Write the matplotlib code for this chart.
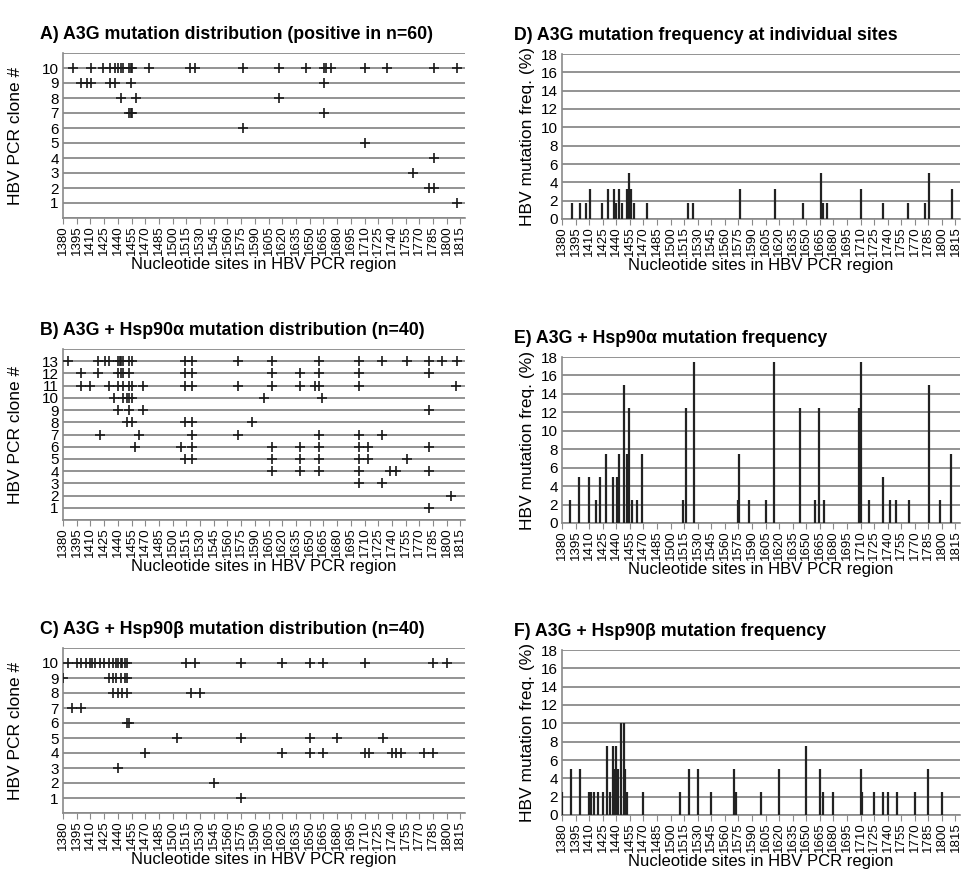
import matplotlib
matplotlib.use("Agg")
import matplotlib.pyplot as plt
import numpy as np

plt.rcParams['font.family'] = ['Liberation Sans', 'DejaVu Sans']

# ---------------- data ----------------
tick_sites = list(range(1380, 1816, 15))

# Panel A: A3G clone mutation positions (row -> sites)
A_rows = {
    10: [1391, 1411, 1424, 1431, 1437, 1440, 1443, 1446, 1452, 1454, 1456, 1474, 1519, 1525,
         1577, 1616, 1646, 1666, 1668, 1673, 1711, 1735, 1786, 1811],
    9: [1400, 1406, 1411, 1431, 1437, 1454, 1666],
    8: [1443, 1460, 1616],
    7: [1452, 1454, 1456, 1666],
    6: [1577],
    5: [1711],
    4: [1786],
    3: [1763],
    2: [1781, 1786],
    1: [1811],
}

B_rows = {
    13: [1385, 1418, 1426, 1430, 1440, 1442, 1444, 1446, 1452, 1455, 1514, 1521, 1571, 1609, 1660, 1704, 1729, 1757, 1781, 1795, 1811],
    12: [1400, 1418, 1440, 1443, 1446, 1452, 1514, 1521, 1609, 1639, 1660, 1704, 1781],
    11: [1400, 1410, 1430, 1440, 1446, 1452, 1455, 1468, 1514, 1521, 1571, 1609, 1639, 1656, 1660, 1704, 1810],
    10: [1436, 1446, 1450, 1452, 1455, 1600, 1664],
    9: [1440, 1452, 1468, 1781],
    8: [1450, 1455, 1514, 1521, 1587],
    7: [1420, 1463, 1521, 1571, 1660, 1704, 1729],
    6: [1459, 1509, 1521, 1609, 1639, 1660, 1704, 1714, 1781],
    5: [1514, 1521, 1609, 1639, 1660, 1704, 1714, 1757],
    4: [1609, 1639, 1660, 1704, 1738, 1744, 1781],
    3: [1704, 1729],
    2: [1805],
    1: [1781],
}

C_rows = {
    10: [1385, 1395, 1400, 1405, 1410, 1412, 1415, 1420, 1425, 1430, 1435, 1438, 1440, 1443, 1445,
         1448, 1450, 1515, 1525, 1575, 1620, 1650, 1665, 1710, 1785, 1800],
    9: [1380, 1430, 1435, 1438, 1443, 1448, 1450],
    8: [1435, 1440, 1445, 1450, 1520, 1530],
    7: [1390, 1400],
    6: [1450, 1452],
    5: [1505, 1575, 1650, 1680, 1730],
    4: [1470, 1620, 1650, 1665, 1710, 1715, 1740, 1745, 1750, 1775, 1785],
    3: [1440],
    2: [1545],
    1: [1575],
}

# Panel D: A3G mutation frequency (%)
D_sites = [1391, 1400, 1406, 1411, 1424, 1431, 1437, 1440, 1443, 1446, 1452, 1454, 1456, 1460, 1474,
           1519, 1525, 1577, 1616, 1646, 1666, 1668, 1673, 1711, 1735, 1763, 1781, 1786, 1811]
D_freq = [1.7, 1.7, 1.7, 3.3, 1.7, 3.3, 3.3, 1.7, 3.3, 1.7, 3.3, 5.0, 3.3, 1.7, 1.7,
          1.7, 1.7, 3.3, 3.3, 1.7, 5.0, 1.7, 1.7, 3.3, 1.7, 1.7, 1.7, 5.0, 3.3]

# Panel E: A3G + Hsp90a frequency (%)
E_sites = [1389, 1399, 1410, 1418, 1422, 1429, 1436, 1441, 1443, 1449, 1452, 1454, 1457, 1463, 1468,
           1514, 1517, 1526, 1575, 1576, 1587, 1605, 1614, 1643, 1660, 1664, 1670, 1708, 1710,
           1719, 1735, 1743, 1749, 1764, 1786, 1798, 1810]
E_freq = [2.5, 5.0, 5.0, 2.5, 5.0, 7.5, 5.0, 5.0, 7.5, 15.0, 7.5, 12.5, 2.5, 2.5, 7.5,
          2.5, 12.5, 17.5, 2.5, 7.5, 2.5, 2.5, 17.5, 12.5, 2.5, 12.5, 2.5, 12.5, 17.5,
          2.5, 5.0, 2.5, 2.5, 2.5, 15.0, 2.5, 7.5]

# Panel F: A3G + Hsp90b frequency (%)
F_sites = [1380, 1390, 1400, 1410, 1412, 1415, 1420, 1425, 1430, 1433, 1436, 1438, 1440, 1442, 1445,
           1448, 1450, 1452, 1470, 1510, 1520, 1530, 1545, 1570, 1572, 1600, 1620, 1650, 1665, 1668,
           1680, 1710, 1712, 1725, 1735, 1740, 1750, 1770, 1785, 1800]
F_freq = [2.5, 5.0, 5.0, 2.5, 2.5, 2.5, 2.5, 2.5, 7.5, 2.5, 7.5, 5.0, 7.5, 5.0, 10.0,
          10.0, 5.0, 2.5, 2.5, 2.5, 5.0, 5.0, 2.5, 5.0, 2.5, 2.5, 5.0, 7.5, 5.0, 2.5,
          2.5, 5.0, 2.5, 2.5, 2.5, 2.5, 2.5, 2.5, 5.0, 2.5]

titles = ["A) A3G mutation distribution (positive in n=60)",
          "B) A3G + Hsp90\u03b1 mutation distribution (n=40)",
          "C) A3G + Hsp90\u03b2 mutation distribution (n=40)",
          "D) A3G mutation frequency at individual sites",
          "E) A3G + Hsp90\u03b1 mutation frequency",
          "F) A3G + Hsp90\u03b2 mutation frequency"]
xlabel = "Nucleotide sites in HBV PCR region"
ylabel_left = "HBV PCR clone #"
ylabel_right = "HBV mutation freq. (%)"

# ---------------- layout ----------------
W, H = 964, 874
fig = plt.figure(figsize=(W / 100, H / 100), dpi=100)

def add_ax(l, r, t, b):
    return fig.add_axes([l / W, 1 - b / H, (r - l) / W, (b - t) / H])

GRID = '#8a8a8a'
XMIN, XMAX = 1380, 1820

def style_x(ax):
    ax.set_xlim(XMIN, XMAX)
    ax.set_xticks(tick_sites)
    ax.set_xticklabels([str(t) for t in tick_sites], rotation=90, fontsize=9.5)
    ax.tick_params(axis='x', length=4, color=GRID, pad=1)
    for s in ['top', 'right']:
        ax.spines[s].set_visible(False)
    ax.spines['left'].set_color(GRID)
    ax.spines['bottom'].set_color(GRID)
    ax.spines['left'].set_linewidth(1.2)
    ax.spines['bottom'].set_linewidth(1.2)
    ax.set_xlabel(xlabel, fontsize=12, labelpad=2)

def dist_panel(ax, rows, nrows, title):
    for r, sites in rows.items():
        ax.plot(sites, [r] * len(sites), linestyle='none', marker='+', ms=7, mew=1.2,
                color='#1a1a1a', zorder=3)
    ax.set_ylim(0, nrows + 1)
    ax.set_yticks(range(0, nrows + 2))
    ax.set_yticklabels([''] + [str(i) for i in range(1, nrows + 1)] + [''], fontsize=11)
    ax.tick_params(axis='y', length=0, pad=3)
    ax.grid(axis='y', color=GRID, lw=1.3)
    ax.set_axisbelow(True)
    style_x(ax)
    ax.set_ylabel(ylabel_left, fontsize=12.5)
    ax.yaxis.set_label_coords(-0.1, 0.5)
    ax.set_title(title, loc='left', fontsize=12.8, fontweight='bold', x=-0.058, pad=10)

def freq_panel(ax, sites, freq, title):
    ax.vlines(sites, 0, freq, color='#222222', lw=1.6, zorder=3)
    ax.set_ylim(0, 18)
    ax.set_yticks(range(0, 19, 2))
    ax.set_yticklabels([str(i) for i in range(0, 19, 2)], fontsize=11)
    ax.tick_params(axis='y', length=0, pad=3)
    ax.grid(axis='y', color=GRID, lw=1.3)
    ax.set_axisbelow(True)
    style_x(ax)
    ax.set_ylabel(ylabel_right, fontsize=12.5, labelpad=4)
    ax.set_title(title, loc='left', fontsize=12.8, fontweight='bold', x=-0.12, pad=10)

axA = add_ax(63, 465, 53, 218)
axB = add_ax(63, 465, 349, 520)
axC = add_ax(63, 465, 648, 813)
axD = add_ax(562, 960, 54, 219)
axE = add_ax(562, 960, 357, 523)
axF = add_ax(562, 960, 650, 815)

dist_panel(axA, A_rows, 10, titles[0])
dist_panel(axB, B_rows, 13, titles[1])
dist_panel(axC, C_rows, 10, titles[2])
freq_panel(axD, D_sites, D_freq, titles[3])
freq_panel(axE, E_sites, E_freq, titles[4])
freq_panel(axF, F_sites, F_freq, titles[5])

fig.savefig("out.png", dpi=100)
